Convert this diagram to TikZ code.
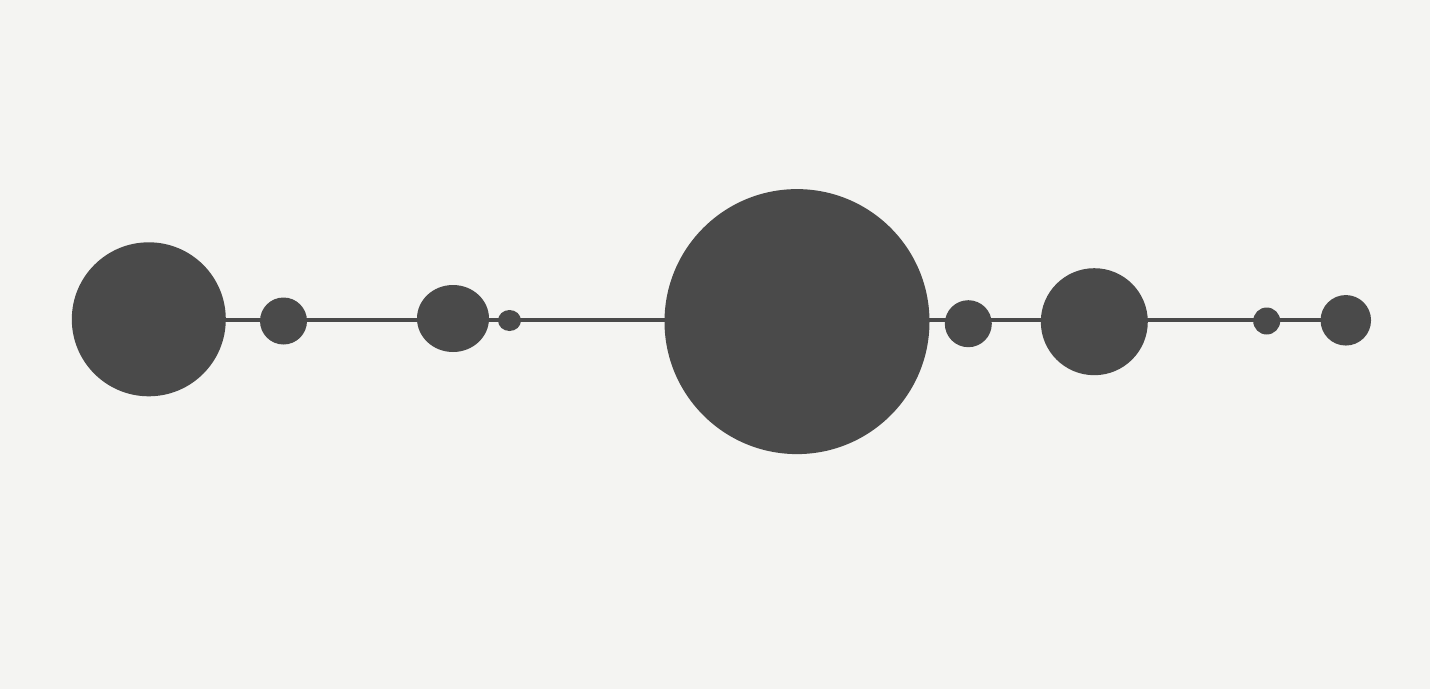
\documentclass[tikz,border=0pt]{standalone}
\usetikzlibrary{shapes.geometric}
\definecolor{bgc}{HTML}{F4F4F2}
\definecolor{dot}{HTML}{4A4A4A}
\pgfdeclarelayer{bglayer}
\pgfdeclarelayer{linelayer}
\pgfsetlayers{bglayer,linelayer,main}
\begin{document}
\begin{tikzpicture}[x=1pt,y=-1pt,
  blob/.style={ellipse,fill=dot,draw=none,inner sep=0pt},
  link/.style={draw=dot,line width=3.8pt}]
\useasboundingbox (0,0) rectangle (1433,696);
\begin{pgfonlayer}{bglayer}
\fill[white] (0,0) rectangle (1433,696);
\fill[bgc] (0,0) rectangle (1430,689);
\end{pgfonlayer}
\node[blob,minimum width=154pt,minimum height=154pt] (c1) at (148.8,319.3) {};
\node[blob,minimum width=47pt,minimum height=47pt] (c2) at (283.5,321) {};
\node[blob,minimum width=72pt,minimum height=67pt] (c3) at (453,318.5) {};
\node[blob,minimum width=23pt,minimum height=21pt] (c4) at (509.5,320.5) {};
\node[blob,minimum width=265pt,minimum height=265pt] (c5) at (797,321.6) {};
\node[blob,minimum width=47pt,minimum height=47pt] (c6) at (968.3,323.7) {};
\node[blob,minimum width=107pt,minimum height=107pt] (c7) at (1094.3,321.7) {};
\node[blob,minimum width=27pt,minimum height=27pt] (c8) at (1266.7,321) {};
\node[blob,minimum width=50.5pt,minimum height=50.5pt] (c9) at (1345.8,320.3) {};
\begin{pgfonlayer}{linelayer}
\draw[link] (c1.center |- c9.center) -- (c9.center);
\end{pgfonlayer}
\end{tikzpicture}
\end{document}
